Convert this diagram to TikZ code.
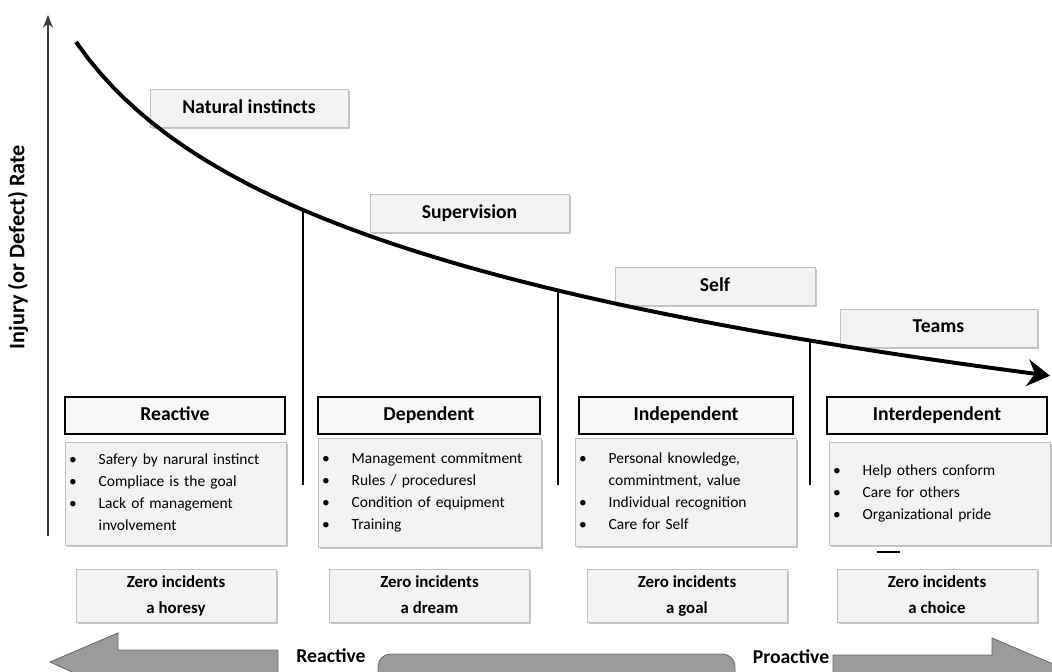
\documentclass[tikz,border=0pt]{standalone}
\usepackage{fontspec}
\setmainfont{Carlito}
\usepackage{tikz}
\usetikzlibrary{arrows,arrows.meta,shapes,calc,positioning,shadows}
\definecolor{grisClaro}{RGB}{243,243,243}
\definecolor{grisBorde}{RGB}{192,192,192}
\definecolor{grisSombra}{RGB}{200,200,200}
\definecolor{grisFlecha}{RGB}{155,155,155}
\definecolor{grisOscuro}{RGB}{105,105,105}
\definecolor{grisEje}{RGB}{60,60,60}
\tikzstyle{nivel}=[draw=grisBorde, fill=grisClaro, line width=0.6pt,
                   minimum height=0.95cm, inner sep=0pt,
                   text height=10pt, text depth=3pt,
                   drop shadow={shadow xshift=1.2pt, shadow yshift=-1.4pt,
                   fill=grisSombra, opacity=1},
                   font=\fontsize{14}{16}\selectfont\bfseries]
\tikzstyle{etapa}=[draw=black, fill=grisClaro!70, line width=0.9pt,
                   minimum height=0.925cm, inner sep=0pt,
                   text height=10pt, text depth=3pt,
                   font=\fontsize{14}{16}\selectfont\bfseries]
\tikzstyle{caja}=[draw=grisBorde, fill=grisClaro, line width=0.6pt,
                  inner xsep=0pt, inner ysep=0pt, align=left,
                  drop shadow={shadow xshift=1.2pt, shadow yshift=-1.4pt,
                  fill=grisSombra, opacity=1},
                  font=\fontsize{11}{15.6}\selectfont]
\tikzstyle{cero}=[draw=grisBorde, fill=grisClaro, line width=0.6pt,
                  minimum width=5cm, minimum height=1.325cm, inner sep=0pt,
                  align=center,
                  drop shadow={shadow xshift=1.2pt, shadow yshift=-1.4pt,
                  fill=grisSombra, opacity=1},
                  font=\fontsize{12}{17.8}\selectfont\bfseries]
\tikzstyle{flecha}=[fill=grisFlecha, draw=grisOscuro, line width=0.6pt]
\newcommand{\punto}{\strut\hspace*{3pt}\makebox[21pt][l]{\textbullet}}
\newcommand{\sigue}{\strut\hspace*{24pt}}

\begin{document}
\begin{tikzpicture}[x=0.025cm, y=-0.025cm]

    \useasboundingbox (0,0) rectangle (1052,671);
    \clip (0,0) rectangle (1052,671);
    \fill[white] (0,0) rectangle (1052,671);

    % eje vertical
    \coordinate (ejeBase) at (48,536);
    \coordinate (ejeTope) at (48,15);
    \draw [grisEje, line width=1pt, -{Stealth[length=9pt,width=7pt]}] (ejeBase) -- (ejeTope);
    \node[rotate=90, font=\fontsize{15.8}{18}\selectfont\bfseries] (eje) at (18,247)
        {Injury (or Defect) Rate};

    % niveles sobre la curva
    \node[nivel, minimum width=4.95cm] (n1) at (249,108.5) {Natural instincts};
    \node[nivel, minimum width=4.975cm] (n2) at (469.5,213.5) {Supervision};
    \node[nivel, minimum width=5cm] (n3) at (715,286.5) {Self};
    \node[nivel, minimum width=4.925cm] (n4) at (938.5,328) {Teams};

    % curva
    \foreach \i/\cx/\cy in {1/303/210, 2/558/290.5, 3/810/340.5}
        \coordinate (c\i) at (\cx,\cy);
    \foreach \i/\cx in {1/303, 2/558, 3/810}
        \coordinate (d\i) at (\cx,485);
    \foreach \i in {1,2,3}
        \draw [black, line width=0.8pt] (c\i) to (d\i);
    \draw [line width=2.8pt, -{Stealth[length=16pt,width=19pt]}]
        plot[domain=76:1050, samples=80] (\x, {42+138.4*ln((\x+20)/96)});

    % etapas
    \foreach \n/\cx/\w/\t in {1/175/5.5/Reactive, 2/429/5.55/Dependent,
        3/686/5.35/Independent, 4/937/5.5/Interdependent}
        \node[etapa, minimum width=\w cm] (h\n) at (\cx,415.5) {\t};

    \node[caja, text width=5.525cm, minimum height=2.575cm] (b1) at (175.5,493.5)
        {\punto Safery by narural instinct\\ \punto Compliace is the goal\\
         \punto Lack of management\\ \sigue involvement};
    \node[caja, text width=5.575cm, minimum height=2.725cm] (b2) at (429.5,492.5)
        {\punto Management commitment\\ \punto Rules / proceduresl\\
         \punto Condition of equipment\\ \punto Training};
    \node[caja, text width=5.525cm, minimum height=2.7cm] (b3) at (685.5,492)
        {\punto Personal knowledge,\\ \sigue commintment, value\\
         \punto Individual recognition\\ \punto Care for Self};
    \node[caja, text width=5.525cm, minimum height=2.575cm] (b4) at (939.5,493.5)
        {\punto Help others conform\\ \punto Care for others\\
         \punto Organizational pride};

    \coordinate (r1) at (877,552);
    \coordinate (r2) at (900,552);
    \draw [black, line width=1.1pt] (r1) -- (r2);

    % cero incidentes
    \foreach \n/\cx/\t in {1/176/a horesy, 2/429.5/a dream, 3/687/a goal, 4/937/a choice}
        \node[cero] (z\n) at (\cx,595.5) {\strut Zero incidents\\ \strut\t};

    % flechas de abajo
    \draw [flecha] (50,662) -- (118,633) -- (118,650) -- (278,650) -- (278,676)
        -- (118,676) -- (118,693) -- cycle;
    \draw [flecha, rounded corners=9pt] (378,654) rectangle (735,694);
    \draw [flecha] (833,655) -- (992,655) -- (992,638) -- (1074,673) -- (992,708)
        -- (992,691) -- (833,691) -- cycle;
    \node[font=\fontsize{14}{16}\selectfont\bfseries] (reac) at (331,656) {Reactive};
    \node[font=\fontsize{14}{16}\selectfont\bfseries] (proa) at (791,657) {Proactive};

\end{tikzpicture}
\end{document}
